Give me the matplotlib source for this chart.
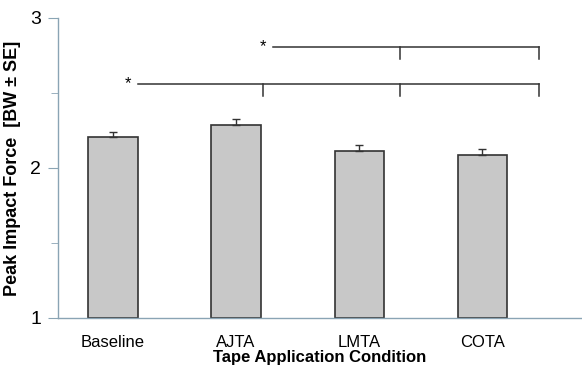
import matplotlib
matplotlib.use("Agg")
import matplotlib.pyplot as plt

categories = ["Baseline", "AJTA", "LMTA", "COTA"]
means = [2.207, 2.287, 2.115, 2.085]
se = [0.033, 0.038, 0.036, 0.040]

# significance brackets: (star x, line start x, line y, tick x positions, tick bottom y)
sig_lower_x = [0.20, 1.22, 2.33, 3.46]
sig_lower_y = 2.558
sig_lower_tick_bottom = [None, 2.48, 2.48, 2.48]
sig_upper_x = [1.30, 2.33, 3.46]
sig_upper_y = 2.809
sig_upper_tick_bottom = [None, 2.73, 2.73]
star_lower = (0.12, 2.56)
star_upper = (1.22, 2.81)

plt.rcParams['font.family'] = ['Liberation Sans', 'DejaVu Sans']

fig = plt.figure(figsize=(5.82, 3.78), dpi=100)
ax = fig.add_axes([58/582, 60/378, 524/582, 300/378])

x = list(range(len(categories)))
ax.bar(x, [m - 1 for m in means], bottom=1, width=0.4, color="#c8c8c8",
       edgecolor="#333333", linewidth=1.2, zorder=2)
ax.errorbar(x, means, yerr=[[0]*len(se), se], fmt="none", ecolor="#333333",
            elinewidth=1.0, capsize=3, capthick=1.0, zorder=3)

ax.set_ylim(1, 3)
ax.set_xlim(-0.447, 3.81)
ax.set_yticks([1, 2, 3])
ax.set_yticks([1.5, 2.5], minor=True)
ax.set_xticks(x)
ax.set_xticklabels(categories, fontsize=12)
ax.tick_params(axis="y", labelsize=14, length=7, color="#8aa4b4", direction="out", pad=5)
ax.tick_params(axis="y", which="minor", length=5, color="#8aa4b4", direction="out")
ax.tick_params(axis="x", length=0, pad=12)

for s in ["top", "right"]:
    ax.spines[s].set_visible(False)
ax.spines["left"].set_color("#8aa4b4")
ax.spines["bottom"].set_color("#8aa4b4")
ax.spines["left"].set_linewidth(1.0)
ax.spines["bottom"].set_linewidth(1.0)

ax.set_xlabel("Tape Application Condition", fontsize=12, fontweight="bold", labelpad=0)
ax.set_ylabel("Peak Impact Force  [BW ± SE]", fontsize=13, fontweight="bold", labelpad=7)

lc = "#333333"
ax.plot([sig_lower_x[0], sig_lower_x[-1]], [sig_lower_y, sig_lower_y], color=lc, lw=1.1)
for xt, yb in zip(sig_lower_x, sig_lower_tick_bottom):
    if yb is not None:
        ax.plot([xt, xt], [sig_lower_y, yb], color=lc, lw=1.1)
ax.plot([sig_upper_x[0], sig_upper_x[-1]], [sig_upper_y, sig_upper_y], color=lc, lw=1.1)
for xt, yb in zip(sig_upper_x, sig_upper_tick_bottom):
    if yb is not None:
        ax.plot([xt, xt], [sig_upper_y, yb], color=lc, lw=1.1)
ax.text(star_lower[0], star_lower[1], "*", fontsize=12, ha="center", va="center")
ax.text(star_upper[0], star_upper[1], "*", fontsize=12, ha="center", va="center")

fig.savefig("out.png", dpi=100)
